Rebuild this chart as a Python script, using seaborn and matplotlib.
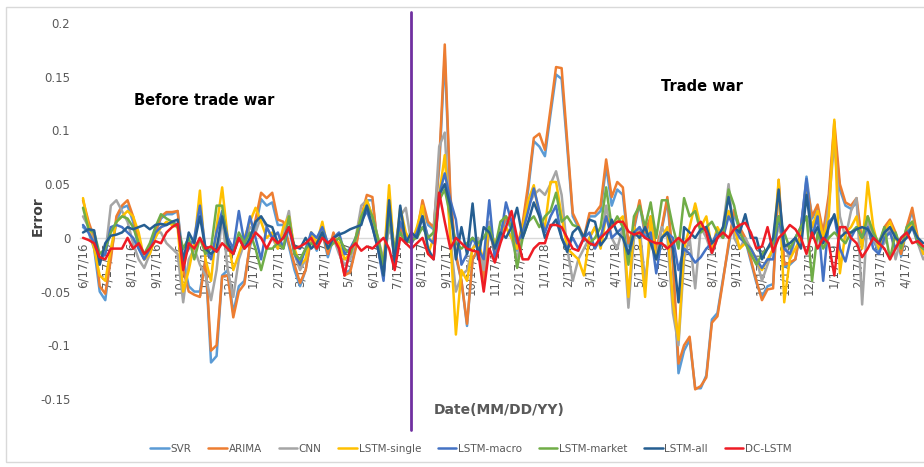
import matplotlib
matplotlib.use("Agg")
import matplotlib.pyplot as plt
import matplotlib.dates as mdates
from matplotlib.patches import Rectangle
import pandas as pd
import seaborn as sns

# weekly prediction errors, one value per Friday starting 6/17/16
START_DATE = "2016-06-17"
N_WEEKS = 152
TRADE_WAR_START = "2017-08-04"

MODELS = ["SVR", "ARIMA", "CNN", "LSTM-single", "LSTM-macro", "LSTM-market", "LSTM-all", "DC-LSTM"]
COLORS = ["#5B9BD5", "#ED7D31", "#A5A5A5", "#FFC000", "#4472C4", "#70AD47", "#255E91", "#EE1C25"]

svr = [
    0.01, 0.005, -0.01, -0.05, -0.058, -0.015, 0.015, 0.028, 0.03, 0.015,
    -0.01, -0.02, -0.012, 0.005, 0.018, 0.022, 0.022, 0.025, -0.02, -0.045,
    -0.05, -0.05, -0.02, -0.116, -0.11, -0.035, -0.03, -0.07, -0.045, -0.04,
    -0.008, 0.01, 0.036, 0.03, 0.033, 0.012, 0.012, -0.008, -0.03, -0.045,
    -0.03, 0.0, -0.012, 0.005, -0.018, 0.0, -0.012, -0.033, -0.03, -0.008,
    0.018, 0.035, 0.035, -0.01, -0.033, 0.018, -0.02, 0.008, 0.0, -0.005,
    0.003, 0.03, 0.012, 0.008, 0.065, 0.17, 0.035, -0.018, -0.04, -0.082,
    -0.02, -0.012, -0.04, 0.008, -0.015, 0.0, 0.018, 0.008, -0.012, 0.01,
    0.045, 0.09, 0.085, 0.076, 0.115, 0.152, 0.148, 0.085, 0.02, 0.01,
    -0.003, 0.02, 0.02, 0.025, 0.067, 0.03, 0.045, 0.04, -0.008, 0.008,
    0.032, 0.002, 0.018, -0.012, 0.008, 0.035, -0.025, -0.126, -0.105, -0.095,
    -0.14, -0.14, -0.128, -0.076, -0.07, -0.038, -0.008, 0.022, 0.008, -0.002,
    -0.022, -0.042, -0.055, -0.045, -0.043, 0.05, -0.027, -0.025, -0.02, 0.008,
    0.057, 0.018, 0.028, 0.003, 0.035, 0.1, 0.045, 0.03, 0.027, 0.033,
    -0.008, 0.018, -0.003, -0.012, 0.008, 0.015, 0.003, -0.017, 0.008, 0.025, -0.003, -0.012,
]
arima = [
    0.035, 0.015, 0.0, -0.045, -0.052, -0.02, 0.02, 0.03, 0.035, 0.02,
    -0.005, -0.02, -0.01, 0.005, 0.02, 0.024, 0.024, 0.025, -0.03, -0.05,
    -0.053, -0.055, -0.02, -0.105, -0.1, -0.036, -0.035, -0.074, -0.05, -0.043,
    -0.005, 0.017, 0.042, 0.037, 0.042, 0.017, 0.015, -0.005, -0.025, -0.042,
    -0.03, 0.0, -0.01, 0.005, -0.015, 0.005, -0.01, -0.035, -0.032, -0.01,
    0.02, 0.04, 0.038, -0.01, -0.035, 0.02, -0.02, 0.01, 0.0, -0.005,
    0.005, 0.035, 0.015, 0.01, 0.07, 0.18, 0.04, -0.015, -0.04, -0.08,
    -0.02, -0.01, -0.04, 0.01, -0.015, 0.005, 0.02, 0.01, -0.01, 0.014,
    0.05, 0.093, 0.097, 0.082, 0.12, 0.159, 0.158, 0.09, 0.023, 0.012,
    0.0, 0.023, 0.023, 0.03, 0.073, 0.038, 0.052, 0.047, -0.005, 0.01,
    0.035, 0.005, 0.02, -0.01, 0.01, 0.038, -0.02, -0.117, -0.1, -0.092,
    -0.141, -0.138, -0.13, -0.079, -0.073, -0.04, -0.005, 0.026, 0.01, 0.0,
    -0.02, -0.04, -0.058, -0.048, -0.047, 0.054, -0.025, -0.023, -0.02, 0.01,
    0.05, 0.02, 0.031, 0.005, 0.04, 0.108, 0.05, 0.033, 0.03, 0.037,
    -0.005, 0.02, 0.0, -0.01, 0.01, 0.017, 0.005, -0.015, 0.01, 0.028, 0.0, -0.01,
]
cnn = [
    0.02, 0.01, -0.005, -0.02, -0.015, 0.03, 0.035, 0.025, 0.015, -0.005,
    -0.02, -0.028, -0.015, 0.005, 0.005, -0.005, -0.01, -0.015, -0.06, -0.02,
    -0.01, -0.025, -0.035, -0.058, -0.03, 0.02, -0.03, -0.055, -0.02, -0.005,
    0.01, 0.005, 0.02, 0.01, 0.0, -0.01, 0.005, 0.025, -0.015, -0.03,
    -0.02, 0.005, -0.01, 0.01, -0.01, 0.0, -0.015, -0.025, -0.02, 0.0,
    0.03, 0.035, 0.02, 0.0, -0.02, 0.01, -0.01, 0.02, 0.028, -0.005,
    0.005, 0.02, 0.0, 0.005, 0.085, 0.098, 0.0, -0.05, -0.035, -0.03,
    -0.01, 0.0, -0.03, 0.015, -0.01, 0.0, 0.01, 0.0, -0.02, 0.005,
    0.03, 0.04, 0.045, 0.04, 0.05, 0.062, 0.04, -0.01, -0.04, -0.02,
    -0.01, 0.0, 0.01, -0.005, 0.03, 0.0, -0.01, 0.01, -0.065, 0.0,
    0.01, -0.04, 0.0, -0.02, 0.01, 0.0, -0.07, -0.1, -0.02, 0.0,
    -0.047, 0.01, 0.0, -0.015, 0.0, 0.01, 0.05, 0.0, -0.01, 0.0,
    -0.01, -0.02, -0.04, -0.025, -0.01, 0.01, -0.005, -0.02, 0.0, 0.01,
    0.02, 0.0, 0.025, -0.005, 0.03, 0.09, 0.02, 0.0, 0.025, 0.037,
    -0.062, 0.02, 0.0, -0.01, -0.005, 0.01, -0.02, 0.0, 0.005, 0.015, -0.005, -0.02,
]
lstm_single = [
    0.037, 0.01, -0.01, -0.035, -0.04, -0.01, 0.015, 0.02, 0.025, 0.02,
    0.005, -0.02, -0.015, 0.0, 0.01, 0.015, 0.012, 0.01, -0.05, -0.03,
    -0.005, 0.044, -0.02, -0.04, 0.01, 0.047, 0.0, -0.03, -0.015, 0.0,
    0.015, 0.028, 0.015, 0.0, 0.005, -0.01, 0.01, 0.02, -0.01, -0.025,
    -0.02, 0.005, -0.005, 0.015, -0.01, 0.0, -0.005, -0.02, -0.015, 0.0,
    0.02, 0.035, 0.02, -0.01, -0.025, 0.049, -0.02, 0.028, 0.005, -0.005,
    0.01, 0.03, -0.015, 0.0, 0.04, 0.077, 0.0, -0.09, -0.03, -0.04,
    -0.01, -0.005, -0.02, 0.01, -0.005, 0.005, 0.01, 0.0, -0.01, 0.01,
    0.035, 0.049, 0.02, 0.01, 0.052, 0.052, 0.02, -0.01, -0.015, -0.02,
    -0.035, 0.0, 0.01, -0.01, 0.02, 0.01, 0.015, 0.02, -0.055, 0.01,
    0.0, -0.055, 0.02, -0.02, 0.0, 0.01, -0.06, -0.095, -0.01, 0.01,
    0.032, 0.01, 0.02, -0.01, 0.01, 0.0, 0.025, 0.01, -0.01, -0.005,
    -0.01, -0.02, -0.03, -0.02, -0.01, 0.054, -0.06, -0.02, -0.01, 0.0,
    0.045, 0.01, 0.025, 0.0, 0.02, 0.11, -0.033, 0.005, 0.01, 0.02,
    -0.01, 0.052, 0.01, -0.01, 0.005, 0.015, 0.0, -0.01, 0.005, 0.015, 0.0, -0.015,
]
lstm_macro = [
    0.012, 0.005, -0.005, -0.02, -0.015, 0.01, 0.012, 0.01, 0.005, 0.0,
    -0.01, -0.02, -0.01, 0.005, 0.01, 0.012, 0.015, 0.012, -0.02, -0.01,
    0.0, 0.03, -0.01, -0.02, 0.005, 0.025, 0.0, -0.01, 0.025, -0.005,
    0.02, 0.0, -0.02, 0.01, 0.0, 0.005, -0.01, 0.01, -0.015, -0.025,
    -0.01, 0.005, 0.0, 0.01, -0.005, 0.0, 0.005, -0.015, -0.01, 0.0,
    0.015, 0.025, 0.01, -0.01, -0.04, 0.03, -0.02, 0.015, 0.0, -0.005,
    0.005, 0.02, 0.0, -0.005, 0.04, 0.06, 0.035, 0.017, -0.025, -0.015,
    0.0, -0.01, -0.02, 0.035, -0.02, 0.0, 0.033, 0.015, -0.005, 0.005,
    0.025, 0.046, 0.025, 0.005, 0.02, 0.03, 0.0, -0.01, 0.0, -0.01,
    0.0, 0.005, -0.01, 0.0, 0.02, 0.0, 0.005, 0.01, -0.02, 0.005,
    0.01, 0.0, 0.005, -0.033, 0.0, 0.005, 0.0, -0.03, -0.01, -0.015,
    -0.023, -0.018, -0.01, -0.005, 0.005, 0.0, 0.02, 0.01, 0.0, -0.005,
    -0.01, -0.02, -0.028, -0.02, -0.02, 0.02, -0.01, -0.015, 0.0, 0.01,
    0.055, 0.0, 0.02, -0.04, 0.015, 0.02, -0.01, -0.022, 0.0, 0.01,
    0.0, 0.01, -0.01, -0.015, 0.0, 0.005, -0.01, 0.0, 0.005, 0.01, -0.005, -0.01,
]
lstm_market = [
    0.028, 0.008, 0.005, -0.015, -0.01, 0.005, 0.015, 0.02, 0.018, 0.01,
    -0.005, -0.015, -0.005, 0.01, 0.022, 0.018, 0.015, 0.01, -0.01, 0.0,
    -0.02, 0.0, -0.015, -0.01, 0.03, 0.03, -0.01, -0.015, 0.005, -0.005,
    0.005, -0.01, -0.03, -0.01, -0.01, -0.005, -0.01, 0.02, -0.015, -0.02,
    -0.01, -0.005, -0.01, 0.005, -0.01, -0.005, 0.0, -0.01, -0.015, 0.0,
    0.02, 0.03, 0.02, 0.0, -0.025, 0.02, -0.01, 0.005, -0.005, -0.002,
    0.0, 0.01, 0.0, 0.005, 0.035, 0.045, 0.02, -0.005, -0.01, -0.005,
    0.0, -0.005, 0.0, 0.01, -0.01, 0.015, 0.02, 0.01, -0.028, 0.0,
    0.015, 0.02, 0.01, 0.02, 0.025, 0.042, 0.015, 0.02, 0.012, 0.01,
    0.0, -0.005, 0.0, 0.01, 0.047, 0.01, 0.02, 0.01, -0.025, 0.02,
    0.03, 0.01, 0.033, 0.0, 0.035, 0.035, 0.01, -0.01, 0.037, 0.02,
    0.025, 0.005, 0.01, 0.015, 0.005, 0.0, 0.045, 0.03, 0.005, -0.005,
    -0.015, -0.025, -0.015, -0.01, -0.005, 0.02, 0.005, -0.01, 0.0, 0.01,
    0.02, -0.04, 0.005, -0.01, 0.0, 0.005, 0.0, -0.005, 0.005, 0.01,
    0.0, 0.02, 0.005, -0.005, 0.01, -0.02, 0.005, -0.01, 0.01, 0.015, -0.005, -0.01,
]
lstm_all = [
    0.005, 0.008, 0.007, -0.025, -0.005, 0.002, 0.003, 0.005, 0.01, 0.008,
    0.01, 0.012, 0.008, 0.012, 0.013, 0.012, 0.015, 0.017, -0.022, 0.005,
    -0.005, 0.02, -0.01, -0.015, -0.01, 0.02, -0.005, -0.015, 0.0, -0.01,
    0.0, 0.015, 0.02, 0.012, 0.01, -0.005, 0.0, 0.01, -0.008, -0.01,
    0.0, -0.01, -0.005, 0.005, -0.01, 0.0, 0.003, 0.005, 0.008, 0.01,
    0.012, 0.03, 0.01, -0.01, -0.035, 0.035, -0.025, 0.03, -0.005, 0.005,
    0.0, 0.02, -0.01, -0.02, 0.04, 0.05, 0.03, -0.02, 0.01, -0.015,
    0.032, -0.02, 0.01, 0.005, -0.01, 0.005, 0.0, 0.01, 0.028, 0.0,
    0.015, 0.033, 0.02, 0.0, 0.01, 0.017, 0.0, -0.013, 0.005, 0.01,
    0.0, 0.017, 0.015, -0.007, 0.0, 0.017, 0.005, 0.0, -0.015, 0.005,
    0.0, 0.01, -0.005, -0.02, 0.0, 0.005, -0.01, -0.06, 0.01, 0.005,
    0.0, 0.008, 0.01, -0.005, 0.0, 0.01, 0.038, 0.01, 0.005, 0.022,
    0.0, 0.0, -0.02, -0.01, 0.0, 0.045, -0.008, -0.005, 0.0, -0.01,
    0.04, 0.0, 0.01, -0.005, 0.01, 0.022, 0.0, 0.005, 0.005, 0.008,
    0.01, 0.008, 0.0, -0.005, 0.005, 0.01, 0.0, -0.005, 0.0, 0.01, 0.0, -0.005,
]
dc_lstm = [
    0.0, -0.002, -0.005, -0.018, -0.02, -0.01, -0.01, -0.01, 0.0, -0.01,
    -0.005, -0.015, -0.01, -0.003, -0.005, 0.005, 0.01, 0.013, -0.03, -0.005,
    -0.01, 0.0, -0.01, -0.008, -0.013, -0.005, -0.01, -0.015, 0.0, -0.01,
    -0.005, 0.005, 0.0, -0.01, 0.0, -0.005, 0.0, 0.01, -0.01, -0.008,
    -0.005, 0.0, -0.01, 0.0, -0.005, 0.0, -0.01, -0.035, -0.01, -0.005,
    -0.012, -0.008, -0.01, -0.005, 0.0, -0.01, -0.03, 0.0, -0.005, -0.01,
    -0.005, 0.0, -0.015, -0.02, 0.042, 0.015, -0.01, 0.0, -0.005, -0.01,
    -0.012, -0.013, -0.05, -0.01, -0.023, -0.005, 0.01, 0.025, 0.0, -0.02,
    -0.02, -0.01, -0.005, -0.005, 0.012, 0.012, 0.01, 0.0, -0.01, -0.012,
    0.0, -0.005, -0.007, 0.0, 0.005, 0.01, 0.015, 0.015, 0.006, 0.003,
    0.005, 0.0, -0.003, -0.005, -0.005, -0.01, -0.005, 0.0, -0.005, 0.0,
    0.01, 0.015, 0.005, -0.014, 0.0, 0.005, 0.0, 0.008, 0.012, 0.014,
    0.005, -0.01, -0.008, 0.01, -0.013, 0.0, 0.005, 0.012, 0.008, 0.0,
    -0.015, 0.005, -0.01, 0.0, -0.005, -0.035, 0.01, 0.01, 0.0, -0.005,
    -0.018, -0.01, 0.0, -0.005, -0.01, -0.02, -0.01, 0.0, 0.005, -0.005, -0.003, -0.008,
]

TICK_LABELS = [
    "6/17/16", "7/17/16", "8/17/16", "9/17/16", "10/17/16", "11/17/16", "12/17/16",
    "1/17/17", "2/17/17", "3/17/17", "4/17/17", "5/17/17", "6/17/17", "7/17/17",
    "8/17/17", "9/17/17", "10/17/17", "11/17/17", "12/17/17", "1/17/18", "2/17/18",
    "3/17/18", "4/17/18", "5/17/18", "6/17/18", "7/17/18", "8/17/18", "9/17/18",
    "10/17/18", "11/17/18", "12/17/18", "1/17/19", "2/17/19", "3/17/19", "4/17/19",
]
Y_TICKS = [-0.15, -0.1, -0.05, 0, 0.05, 0.1, 0.15, 0.2]


def main() -> None:
    sns.set_theme(style="white")
    plt.rcParams["font.family"] = ["Liberation Sans Narrow", "DejaVu Sans"]

    dates = pd.date_range(START_DATE, periods=N_WEEKS, freq="7D")
    wide = pd.DataFrame(
        {
            "date": dates,
            "SVR": svr,
            "ARIMA": arima,
            "CNN": cnn,
            "LSTM-single": lstm_single,
            "LSTM-macro": lstm_macro,
            "LSTM-market": lstm_market,
            "LSTM-all": lstm_all,
            "DC-LSTM": dc_lstm,
        }
    )
    df = wide.melt(id_vars="date", var_name="model", value_name="error")

    fig = plt.figure(figsize=(9.24, 4.67), dpi=100)
    fig.patches.append(
        Rectangle((6 / 924, 5 / 467), 930 / 924, 455 / 467, transform=fig.transFigure,
                  fill=False, edgecolor="#D9D9D9", linewidth=1.0)
    )
    ax = fig.add_axes([80 / 924, 68 / 467, 844 / 924, 376 / 467])

    sns.lineplot(
        data=df, x="date", y="error", hue="model", hue_order=MODELS,
        palette=dict(zip(MODELS, COLORS)), linewidth=1.8, ax=ax, legend=False,
    )
    handles = ax.get_lines()[: len(MODELS)]

    start = pd.Timestamp(START_DATE)
    ax.set_xlim(start - pd.Timedelta(days=3.8), start + pd.Timedelta(days=1057.8))
    ax.set_ylim(-0.15, 0.2)

    for side in ["top", "right", "left"]:
        ax.spines[side].set_visible(False)
    ax.spines["bottom"].set_position(("data", 0))
    ax.spines["bottom"].set_color("#D9D9D9")
    ax.spines["bottom"].set_linewidth(1.0)
    ax.spines["bottom"].set_zorder(0)

    tick_dates = pd.to_datetime(TICK_LABELS, format="%m/%d/%y")
    ax.set_xticks(mdates.date2num(tick_dates))
    ax.set_xticklabels(TICK_LABELS, rotation=90, fontsize=8.5, color="#595959", va="top")
    ax.set_yticks(Y_TICKS)
    ax.set_yticklabels([f"{v:g}" for v in Y_TICKS], fontsize=8.5, color="#595959")
    ax.tick_params(axis="both", length=0)
    ax.tick_params(axis="x", pad=3)
    ax.tick_params(axis="y", pad=7)
    ax.set_xlabel("")
    ax.set_ylabel("")

    war = mdates.date2num(pd.Timestamp(TRADE_WAR_START))
    ax.plot([war, war], [0.21, -0.179], color="#7030A0", linewidth=2.0, clip_on=False, zorder=5)

    ax.text(mdates.date2num(pd.Timestamp("2016-11-17")), 0.128, "Before trade war",
            fontsize=10.5, fontweight="bold", color="black", ha="center", va="center")
    ax.text(mdates.date2num(pd.Timestamp("2018-08-05")), 0.141, "Trade war",
            fontsize=10.5, fontweight="bold", color="black", ha="center", va="center")
    fig.text(38 / 924, 1 - 216 / 467, "Error", rotation=90, fontsize=10, fontweight="bold",
             color="#404040", ha="center", va="center")
    fig.text(499 / 924, 1 - 410 / 467, "Date(MM/DD/YY)", fontsize=10, fontweight="bold",
             color="#595959", ha="center", va="center")

    fig.legend(
        handles, MODELS, loc="center", bbox_to_anchor=(471 / 924, 1 - 449 / 467), ncol=len(MODELS),
        frameon=False, fontsize=7.5, labelcolor="#595959", handlelength=1.8,
        handletextpad=0.15, columnspacing=1.6,
    )

    fig.savefig("out.png", dpi=100)
    plt.close(fig)


if __name__ == "__main__":
    main()
